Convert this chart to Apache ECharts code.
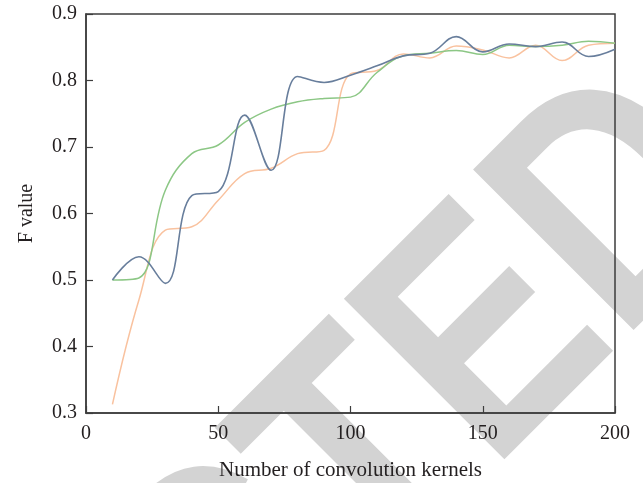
<!DOCTYPE html>
<html>
<head>
<meta charset="utf-8">
<script src="https://cdn.jsdelivr.net/npm/echarts@6/dist/echarts.min.js"></script>
<style>
html,body{margin:0;padding:0;background:#fff;}
#chart{width:643px;height:483px;}
</style>
</head>
<body>
<div id="chart"></div>
<script>
var xValues = [10,20,30,40,50,60,70,80,90,100,110,120,130,140,150,160,170,180,190,200];
var orangeValues = [0.313,0.47,0.575,0.58,0.62,0.66,0.668,0.69,0.695,0.81,0.815,0.84,0.834,0.852,0.846,0.834,0.853,0.83,0.853,0.856];
var greenValues = [0.50,0.503,0.635,0.69,0.703,0.737,0.757,0.768,0.773,0.775,0.812,0.837,0.841,0.845,0.839,0.853,0.851,0.853,0.859,0.856];
var blueValues = [0.50,0.535,0.495,0.627,0.633,0.748,0.665,0.806,0.797,0.808,0.822,0.837,0.841,0.866,0.843,0.855,0.851,0.858,0.836,0.847];
var xTicks = [0,50,100,150,200];
var yTicks = [0.3,0.4,0.5,0.6,0.7,0.8,0.9];
var xTitle = 'Number of convolution kernels';
var yTitle = 'F value';
var watermark = 'RETRACTED';

function pairs(vals){ return xValues.map(function(x,i){ return [x, vals[i]]; }); }

var serif = '"Liberation Serif", "DejaVu Serif", serif';
var axisColor = '#3d3d3d';
var textColor = '#231f20';
var chart = echarts.init(document.getElementById('chart'), null, {renderer:'canvas'});
chart.setOption({
  animation:false,
  backgroundColor:'#ffffff',
  graphic:[{
    type:'text', z:-100, zlevel:0, silent:true,
    x:99, y:736, rotation:Math.PI/4, scaleX:0.83, scaleY:1,
    style:{
      text:watermark, x:0, y:0,
      font:'bold 330px "Liberation Sans", Arial, sans-serif',
      fill:'#d3d3d3',
      align:'center', verticalAlign:'middle',
      textAlign:'center', textVerticalAlign:'middle'
    }
  }],
  grid:{left:86, right:28, top:14, bottom:70, containLabel:false, outerBoundsMode:'none',
        show:true, borderColor:axisColor, borderWidth:1.5, backgroundColor:'transparent'},
  xAxis:{
    type:'value', min:xTicks[0], max:xTicks[xTicks.length-1], interval:50,
    name:xTitle, nameLocation:'middle', nameGap:47,
    nameTextStyle:{fontFamily:serif, fontSize:21, color:textColor},
    axisLine:{show:true, lineStyle:{color:axisColor, width:1.5}},
    axisTick:{show:true, inside:true, length:7, lineStyle:{color:axisColor, width:1.2}},
    axisLabel:{fontFamily:serif, fontSize:20, color:textColor, margin:11},
    splitLine:{show:false}
  },
  yAxis:{
    type:'value', min:yTicks[0], max:yTicks[yTicks.length-1], interval:0.1,
    name:yTitle, nameLocation:'middle', nameGap:49,
    nameTextStyle:{fontFamily:serif, fontSize:20, color:textColor},
    axisLine:{show:true, lineStyle:{color:axisColor, width:1.5}},
    axisTick:{show:true, inside:true, length:7, lineStyle:{color:axisColor, width:1.2}},
    axisLabel:{fontFamily:serif, fontSize:20, color:textColor, margin:9, formatter:function(v){return v.toFixed(1);}},
    splitLine:{show:false}
  },
  series:[
    {type:'line', data:pairs(orangeValues), smooth:0.4, showSymbol:false, symbol:'none', lineStyle:{color:'#f9c29f', width:1.5}, itemStyle:{color:'#f9c29f'}},
    {type:'line', data:pairs(greenValues), smooth:0.4, showSymbol:false, symbol:'none', lineStyle:{color:'#8cc785', width:1.5}, itemStyle:{color:'#8cc785'}},
    {type:'line', data:pairs(blueValues), smooth:0.4, showSymbol:false, symbol:'none', lineStyle:{color:'#687e9c', width:1.6}, itemStyle:{color:'#687e9c'}}
  ]
});
</script>
</body>
</html>
